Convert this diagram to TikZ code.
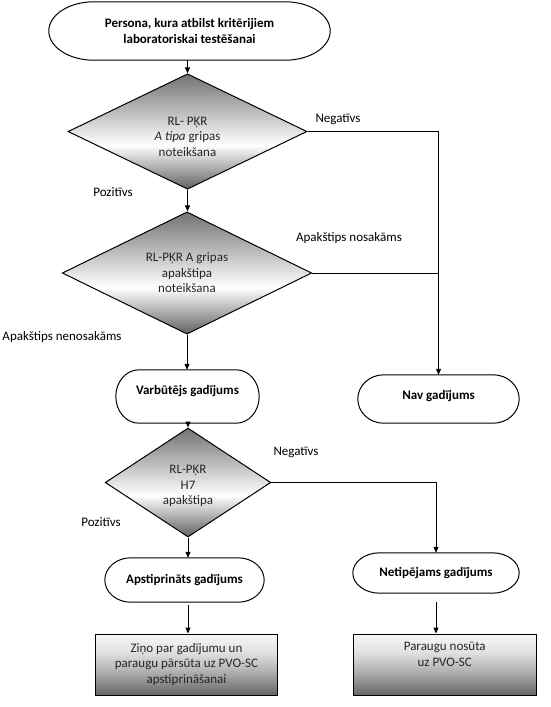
\documentclass[tikz,border=0pt]{standalone}
\usepackage{fontspec}
\setmainfont{Carlito}
\usetikzlibrary{arrows.meta,shapes.geometric,calc}
\pgfdeclareverticalshading{dshade}{100bp}{color(0bp)=(black!62); color(25bp)=(black!62); color(44bp)=(white); color(75bp)=(black!55); color(100bp)=(black!55)}
\pgfdeclareverticalshading{bshade}{100bp}{color(0bp)=(black!60); color(25bp)=(black!60); color(45bp)=(black!30); color(60bp)=(black!12); color(75bp)=(black!3); color(100bp)=(black!3)}
\newcommand{\stadium}[2]{\draw[line width=1pt] let \p1=(#1.north west), \p2=(#1.south east), \n1={(\y1-\y2)/2} in (\x1+#2pt,\y1) -- (\x2-#2pt,\y1) arc[start angle=90,end angle=-90,x radius=#2pt,y radius={\n1*1pt}] -- (\x1+#2pt,\y2) arc[start angle=270,end angle=90,x radius=#2pt,y radius={\n1*1pt}] -- cycle;}
\begin{document}
\begin{tikzpicture}[x=1pt,y=-1pt,
  every node/.style={font=\fontsize{13}{15.5}\selectfont},
  term/.style={rectangle,draw=none,align=center,font=\fontsize{13}{15.5}\selectfont\bfseries},
  dia/.style={diamond,draw,line width=1pt,shade,shading=dshade,inner sep=0pt,align=center,text=black!85},
  procbox/.style={rectangle,draw,line width=1pt,shade,shading=bshade,align=center,text=black!85},
  arr/.style={-{Triangle[length=6pt,width=5pt]},line width=1pt},
  conn/.style={line width=1pt},
  lab/.style={inner sep=0pt}]
\fill[white] (0,0) rectangle (551,707);
\useasboundingbox (0,0) rectangle (551,707);

\node[term,minimum width=281pt,minimum height=58pt] (top) at (189.5,31) {Persona, kura atbilst kritērijiem\\laboratoriskai testēšanai};
\node[dia,minimum width=239pt,minimum height=107pt,text height=49.5pt] (d1) at (187.5,131.5) {RL- PĶR\\\textit{A tipa} gripas\\noteikšana};
\node[dia,minimum width=249.5pt,minimum height=120pt] (d2) at (187,273) {RL-PĶR A gripas\\apakštipa\\noteikšana};
\node[term,minimum width=143pt,minimum height=53pt,text depth=13pt] (varb) at (187.5,396.5) {Varbūtējs gadījums};
\node[term,minimum width=161pt,minimum height=48pt,text depth=9pt] (nav) at (438.5,399) {Nav gadījums};
\node[dia,minimum width=165.5pt,minimum height=109pt,text height=46.5pt] (d3) at (188,482.5) {RL-PĶR\\H7\\apakštipa};
\node[term,minimum width=159pt,minimum height=44pt] (apst) at (184.5,580) {Apstiprināts gadījums};
\node[term,minimum width=166pt,minimum height=40pt] (net) at (436,573) {Netipējams gadījums};
\node[procbox,minimum width=182pt,minimum height=61pt] (b1) at (186.5,664.5) {Ziņo par gadījumu un\\paraugu pārsūta uz PVO-SC\\apstiprināšanai};
\node[procbox,minimum width=183.5pt,minimum height=61pt] (b2) at (444.75,664.5) {Paraugu nosūta\\uz PVO-SC\\\strut};

\stadium{top}{45}
\stadium{varb}{23}
\stadium{nav}{26}
\stadium{apst}{26}
\stadium{net}{27}

\node[lab] (l1) at (338,119) {Negatīvs};
\node[lab] (l2) at (113,192) {Pozitīvs};
\node[lab] (l3) at (349,238) {Apakštips nosakāms};
\node[lab] (l4) at (62,337) {Apakštips nenosakāms};
\node[lab] (l5) at (296,452) {Negatīvs};
\node[lab] (l6) at (101,522) {Pozitīvs};

\draw[arr] (d1.north |- top.south) -- (d1.north);
\draw[arr] (d1.south) -- (d1.south |- d2.north);
\draw[arr] (d2.south) -- (d2.south |- varb.north);
\draw[arr] (d3.north |- varb.south) -- (d3.north);
\draw[arr] (d3.south) -- (d3.south |- apst.north);
\draw[arr,shorten <=3pt] (d3.south |- apst.south) -- (d3.south |- b1.north);
\draw[arr,shorten <=9pt] (net.south) -- (net.south |- b2.north);
\draw[arr] (d1.east) -| (nav.north);
\draw[conn] (d2.east) -- (d2.east -| nav.north);
\draw[arr] (d3.east) -| (net.north);
\end{tikzpicture}
\end{document}
